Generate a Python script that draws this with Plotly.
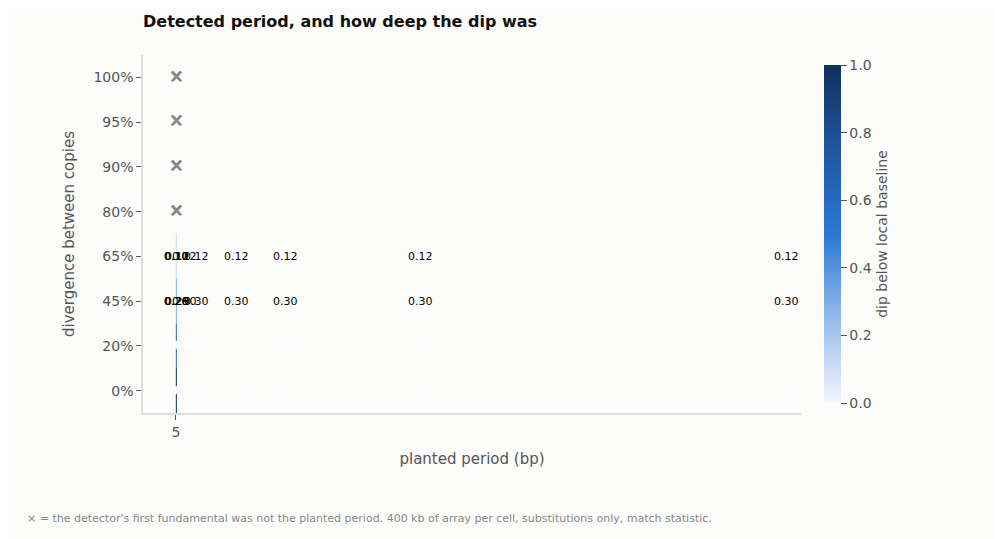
import plotly.graph_objects as go

periods = ["5", "8", "17", "68", "171", "500", "900", "2000", "5000"]
divergence = ["0%", "20%", "45%", "65%", "80%", "90%", "95%", "100%"]

dip_0 = [1.00, 1.00, 1.00, 1.00, 1.00, 1.00, 1.00, 1.00, 1.00]
dip_20 = [0.59, 0.60, 0.62, 0.64, 0.64, 0.64, 0.64, 0.64, 0.64]
dip_45 = [0.26, 0.26, 0.29, 0.30, 0.30, 0.30, 0.30, 0.30, 0.30]
dip_65 = [0.10, 0.10, 0.12, 0.12, 0.12, 0.12, 0.12, 0.12, 0.12]
missed = [None] * 9  # 80%..100%: wrong fundamental

z = [dip_0, dip_20, dip_45, dip_65, missed, missed, missed, missed]

fig = go.Figure()
fig.add_trace(go.Heatmap(
    z=z, x=periods, y=divergence, zmin=0, zmax=1,
    colorscale=[[0, "#f2f7fd"], [0.2, "#a8c8ee"], [0.5, "#2a78d6"], [0.8, "#1d4f94"], [1, "#10305c"]],
    hoverongaps=False,
    colorbar=dict(title=dict(text="dip below local baseline", side="right",
                             font=dict(size=14, color="#555")),
                  thickness=17, len=1, lenmode="fraction", y=0.5, yanchor="middle",
                  x=1.02, xanchor="left", outlinewidth=0,
                  tickvals=[0, 0.2, 0.4, 0.6, 0.8, 1.0], ticktext=["0.0", "0.2", "0.4", "0.6", "0.8", "1.0"],
                  ticks="outside", ticklen=6, tickcolor="#555",
                  tickfont=dict(size=14, color="#555")),
))

annots = []
xs, ys = [], []
for i, row in enumerate(z):
    for j, v in enumerate(row):
        if v is None:
            xs.append(periods[j]); ys.append(divergence[i])
        else:
            annots.append(dict(x=periods[j], y=divergence[i], text=f"{v:.2f}", showarrow=False,
                               font=dict(size=11, color="white" if v > 0.5 else "black")))
fig.add_trace(go.Scatter(x=xs, y=ys, mode="text", text=["×"] * len(xs),
                         textfont=dict(size=17, color="#888"), showlegend=False, hoverinfo="skip"))

annots.append(dict(
    text="× = the detector's first fundamental was not the planted period. 400 kb of array per cell, substitutions only, match statistic.",
    xref="paper", yref="paper", x=-0.18, y=-0.27, xanchor="left", yanchor="top",
    showarrow=False, font=dict(size=11, color="#888")))

fig.update_layout(
    width=1002, height=539,
    margin=dict(l=135, r=209, t=47, b=134),
    paper_bgcolor="#fcfcfa", plot_bgcolor="#fcfcfa",
    font=dict(family="DejaVu Sans", color="#555"),
    title=dict(text="<b>Detected period, and how deep the dip was</b>", x=0, xref="paper",
               xanchor="left", y=0.985, yanchor="top", font=dict(size=16, color="#111")),
    annotations=annots,
)
fig.update_xaxes(type="category",
                 title=dict(text="planted period (bp)", font=dict(size=15, color="#555")),
                 tickfont=dict(size=14, color="#555"), ticks="outside", ticklen=5, tickcolor="#555",
                 showline=True, linecolor="#ddd", linewidth=1.5, showgrid=False)
fig.update_yaxes(type="category",
                 title=dict(text="divergence between copies", font=dict(size=15, color="#555")),
                 tickfont=dict(size=14, color="#555"), ticks="outside", ticklen=5, tickcolor="#555",
                 showline=True, linecolor="#ddd", linewidth=1.5, showgrid=False)

fig.write_html("out.html")
